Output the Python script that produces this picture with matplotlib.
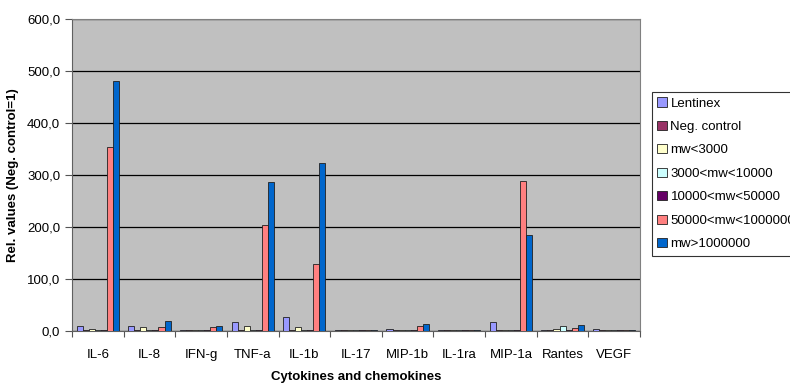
import matplotlib
matplotlib.use("Agg")
import matplotlib.pyplot as plt
import numpy as np
from matplotlib.ticker import FuncFormatter

plt.rcParams['font.family'] = ['Liberation Sans', 'DejaVu Sans']

categories = ['IL-6', 'IL-8', 'IFN-g', 'TNF-a', 'IL-1b', 'IL-17', 'MIP-1b', 'IL-1ra', 'MIP-1a', 'Rantes', 'VEGF']
series_names = ['Lentinex', 'Neg. control', 'mw<3000', '3000<mw<10000',
                '10000<mw<50000', '50000<mw<1000000', 'mw>1000000']

lentinex = [10, 10, 1, 17, 26, 1, 4, 1, 17, 1, 4]
neg_control = [1, 1, 1, 1, 1, 1, 1, 1, 1, 1, 1]
mw_lt3000 = [4, 8, 1, 10, 8, 1, 1, 1, 1, 3, 1]
mw_3000_10000 = [1, 1, 1, 1, 1, 1, 1, 1, 1, 9, 1]
mw_10000_50000 = [1, 1, 1, 1, 1, 1, 1, 1, 1, 1, 1]
mw_50000_1e6 = [353, 8, 8, 203, 128, 1, 10, 1, 289, 6, 1]
mw_gt1e6 = [481, 20, 10, 286, 324, 1, 14, 1, 185, 12, 1]

series = [lentinex, neg_control, mw_lt3000, mw_3000_10000, mw_10000_50000, mw_50000_1e6, mw_gt1e6]
colors = ['#9999FF', '#993366', '#FFFFCC', '#CCFFFF', '#660066', '#FF8080', '#0066CC']

fig = plt.figure(figsize=(7.9, 3.83), dpi=100)
ax = fig.add_axes([0.0911, 0.1358, 0.719, 0.8145])
ax.set_facecolor('#C0C0C0')

x = np.arange(len(categories))
w = 0.117
for i, (vals, c, name) in enumerate(zip(series, colors, series_names)):
    ax.bar(x + (i - 3) * w, vals, width=w, color=c, edgecolor='#202020',
           linewidth=0.6, label=name, zorder=3)

ax.set_xlim(-0.5, len(categories) - 0.5)
ax.set_ylim(0, 600)
ax.set_yticks(np.arange(0, 601, 100))
ax.yaxis.set_major_formatter(FuncFormatter(lambda v, p: ('%.1f' % v).replace('.', ',')))
ax.grid(axis='y', color='black', linewidth=0.9, zorder=1)
ax.set_xticks(np.arange(-0.5, len(categories), 1), minor=False)
ax.set_xticklabels([])
ax.set_xticks(x, minor=True)
ax.set_xticklabels(categories, minor=True)
ax.tick_params(axis='x', which='minor', length=0, pad=13, labelsize=9.5)
ax.tick_params(axis='x', which='major', length=4, direction='out', color='#555555')
ax.tick_params(axis='y', length=5, labelsize=9.5, color='#555555')

for s in ['top', 'right']:
    ax.spines[s].set_color('#808080')
for s in ['left', 'bottom']:
    ax.spines[s].set_color('#606060')

ax.set_ylabel('Rel. values (Neg. control=1)', fontweight='bold', fontsize=9.5, labelpad=6)
ax.set_xlabel('Cytokines and chemokines', fontweight='bold', fontsize=9.5, labelpad=7)

leg = fig.legend(loc='upper left', bbox_to_anchor=(652 / 790, 1 - 92 / 383), fontsize=9.5,
                 frameon=True, fancybox=False, edgecolor='black', handlelength=0.7,
                 handleheight=0.7, handletextpad=0.3, labelspacing=0.85, borderpad=0.4,
                 borderaxespad=0)
leg.get_frame().set_linewidth(0.8)

fig.savefig('out.png', dpi=100)
